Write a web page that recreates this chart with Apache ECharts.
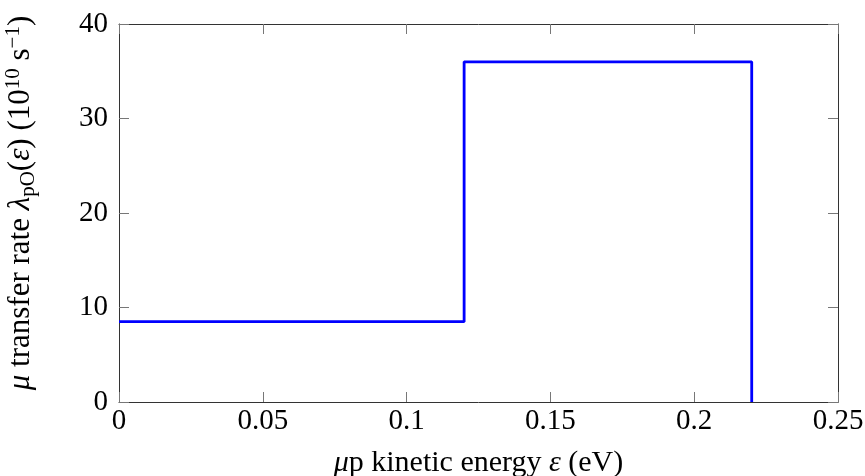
<!DOCTYPE html>
<html>
<head>
<meta charset="utf-8">
<script src="https://cdn.jsdelivr.net/npm/echarts@6/dist/echarts.min.js"></script>
<style>html,body{margin:0;padding:0;background:#fff}#c{width:865px;height:476px}</style>
</head>
<body>
<div id="c"></div>
<script>
// Data: step function (bin edges and rate in each bin)
const binEdges = [0, 0.12, 0.22];
const rates = [8.5, 36];
const xTicks = [0, 0.05, 0.1, 0.15, 0.2, 0.25];
const yTicks = [0, 10, 20, 30, 40];

const pts = [];
for (let i = 0; i < rates.length; i++) {
  pts.push([binEdges[i], rates[i]]);
  pts.push([binEdges[i + 1], rates[i]]);
}
pts.push([binEdges[binEdges.length - 1], 0]);

const FONT = 'Liberation Serif';
const FS = 29;
const axisLineStyle = { color: '#333', width: 1 };
const tickStyle = { color: '#777', width: 1 };

function makeRich(fs, sfs) {
  return {
    n: { fontFamily: FONT, fontSize: fs, color: '#000', verticalAlign: 'middle', lineHeight: 36 },
    i: { fontFamily: FONT, fontSize: fs, fontStyle: 'italic', color: '#000', verticalAlign: 'middle', lineHeight: 36 },
    sub: { fontFamily: FONT, fontSize: sfs, color: '#000', verticalAlign: 'bottom', lineHeight: 36 },
    sup: { fontFamily: FONT, fontSize: sfs, color: '#000', verticalAlign: 'top', lineHeight: 36 }
  };
}

const chart = echarts.init(document.getElementById('c'), null, { renderer: 'canvas' });
chart.setOption({
  animation: false,
  backgroundColor: '#fff',
  grid: { left: 119, right: 27, top: 24, bottom: 74, containLabel: false, outerBoundsMode: 'none' },
  xAxis: [{
    type: 'value', min: xTicks[0], max: xTicks[xTicks.length - 1], interval: 0.05,
    position: 'bottom',
    axisLine: { show: true, onZero: false, lineStyle: axisLineStyle },
    axisTick: { show: true, inside: true, length: 10, lineStyle: tickStyle },
    axisLabel: { margin: 5, fontFamily: FONT, fontSize: FS, color: '#000' },
    splitLine: { show: false },
    name: '{i|μ}{n|p kinetic energy }{i|ε}{n| (eV)}',
    nameLocation: 'middle', nameGap: 43,
    nameTextStyle: { fontFamily: FONT, fontSize: 30, color: '#000', rich: makeRich(30, 20) }
  }, {
    type: 'value', min: xTicks[0], max: xTicks[xTicks.length - 1], interval: 0.05,
    position: 'top',
    axisLine: { show: true, onZero: false, lineStyle: axisLineStyle },
    axisTick: { show: true, inside: true, length: 10, lineStyle: tickStyle },
    axisLabel: { show: false },
    splitLine: { show: false }
  }],
  yAxis: [{
    type: 'value', min: yTicks[0], max: yTicks[yTicks.length - 1], interval: 10,
    position: 'left',
    axisLine: { show: true, onZero: false, lineStyle: axisLineStyle },
    axisTick: { show: true, inside: true, length: 10, lineStyle: tickStyle },
    axisLabel: { margin: 11, fontFamily: FONT, fontSize: FS, color: '#000' },
    splitLine: { show: false },
    name: '{i|μ}{n| transfer rate }{i|λ}{sub|pO}{n|(}{i|ε}{n|) (10}{sup|10}{n| s}{sup|−1}{n|)}',
    nameLocation: 'middle', nameGap: 80, nameRotate: 90,
    nameTextStyle: { fontFamily: FONT, fontSize: 31, color: '#000', padding: [0, 0, 0, 20], rich: makeRich(31, 21) }
  }, {
    type: 'value', min: yTicks[0], max: yTicks[yTicks.length - 1], interval: 10,
    position: 'right',
    axisLine: { show: true, onZero: false, lineStyle: axisLineStyle },
    axisTick: { show: true, inside: true, length: 10, lineStyle: tickStyle },
    axisLabel: { show: false },
    splitLine: { show: false }
  }],
  series: [{
    type: 'line',
    xAxisIndex: 0, yAxisIndex: 0,
    data: pts,
    showSymbol: false,
    symbol: 'none',
    clip: false,
    lineStyle: { color: '#0000ff', width: 2.8 },
    itemStyle: { color: '#0000ff' }
  }]
});
</script>
</body>
</html>
